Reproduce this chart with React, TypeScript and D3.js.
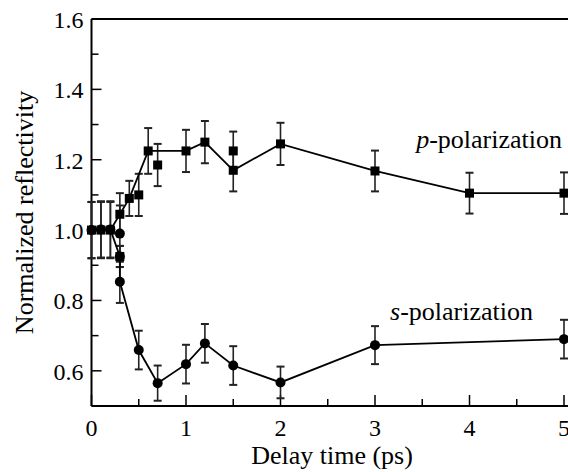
import React from 'react';
import * as d3 from 'd3';

// p-polarization (squares), points joined by the line
const pLineX = [0, 0.1, 0.2, 0.3, 0.4, 0.6, 1.0, 1.2, 1.5, 2.0, 3.0, 4.0, 5.0];
const pLineY = [1.0, 1.0, 1.0, 1.045, 1.09, 1.225, 1.225, 1.25, 1.17, 1.245, 1.168, 1.105, 1.105];
const pLineErr = [0.08, 0.08, 0.08, 0.06, 0.05, 0.065, 0.06, 0.06, 0.06, 0.06, 0.058, 0.058, 0.059];
// p-polarization squares not on the line
const pExtraX = [0.3, 0.5, 0.7, 1.5];
const pExtraY = [0.925, 1.1, 1.185, 1.225];
const pExtraErr = [0.03, 0.06, 0.06, 0.055];

// s-polarization (circles), points joined by the line
const sLineX = [0, 0.1, 0.2, 0.3, 0.3, 0.5, 0.7, 1.0, 1.2, 1.5, 2.0, 3.0, 5.0];
const sLineY = [1.0, 1.002, 1.002, 0.925, 0.853, 0.659, 0.565, 0.619, 0.678, 0.615, 0.567, 0.673, 0.69];
const sLineErr = [0.08, 0.08, 0.08, 0.03, 0.06, 0.055, 0.05, 0.055, 0.055, 0.055, 0.045, 0.054, 0.055];
// s-polarization circles not on the line
const sExtraX = [0.3];
const sExtraY = [0.99];
const sExtraErr = [0.08];

const xMajor = [0, 1, 2, 3, 4, 5];
const yMajor = [0.6, 0.8, 1.0, 1.2, 1.4, 1.6];

const W = 568;
const H = 472;
const font = "'Liberation Serif', 'Times New Roman', Times, serif";
const tickTxt: React.CSSProperties = { fontFamily: font, fontSize: '24px', fill: 'black' };
const labelTxt: React.CSSProperties = { fontFamily: font, fontSize: '26px', fill: 'black' };

const App = () => {
  const x = d3.scaleLinear().domain([0, 5]).range([91.5, 564]);
  const y = d3.scaleLinear().domain([0.5, 1.6]).range([406, 19]);
  const top = y(1.6);
  const bottom = y(0.5);
  const left = x(0);

  const xMinor = d3.range(0.5, 5, 1);
  const yMinor = d3.range(0.5, 1.6, 0.2);

  const line = d3
    .line<[number, number]>()
    .x((d) => x(d[0]))
    .y((d) => y(d[1]));

  const pts = (xs: number[], ys: number[], es: number[]) =>
    xs.map((v, i) => ({ x: v, y: ys[i], e: es[i] }));

  const pLine = pts(pLineX, pLineY, pLineErr);
  const pExtra = pts(pExtraX, pExtraY, pExtraErr);
  const sLine = pts(sLineX, sLineY, sLineErr);
  const sExtra = pts(sExtraX, sExtraY, sExtraErr);

  const errBar = (d: { x: number; y: number; e: number }, k: string) => {
    const cx = x(d.x);
    const y1 = y(d.y + d.e);
    const y2 = y(d.y - d.e);
    return (
      <g key={k} stroke="#222" fill="none">
        <line x1={cx} x2={cx} y1={y1} y2={y2} strokeWidth={1.6} />
        <line x1={cx - 4} x2={cx + 4} y1={y1} y2={y1} strokeWidth={2} />
        <line x1={cx - 4} x2={cx + 4} y1={y2} y2={y2} strokeWidth={2} />
      </g>
    );
  };

  return (
    <>
      <style>{`body { margin: 0; }`}</style>
      <svg width={W} height={H} style={{ display: 'block' }}>
        <rect width={W} height={H} fill="white" />

        {/* frame */}
        <g stroke="black" strokeWidth={2} fill="none">
          <line x1={left} x2={W + 2} y1={top} y2={top} />
          <line x1={left} x2={W + 2} y1={bottom} y2={bottom} />
          <line x1={left} x2={left} y1={top} y2={bottom} />
        </g>

        {/* ticks */}
        <g stroke="black" strokeWidth={1.5}>
          {xMajor.map((t) => (
            <line key={'xm' + t} x1={x(t)} x2={x(t)} y1={bottom} y2={bottom - 11} />
          ))}
          {xMinor.map((t) => (
            <line key={'xn' + t} x1={x(t)} x2={x(t)} y1={bottom} y2={bottom - 7} />
          ))}
          {yMajor.map((t) => (
            <line key={'ym' + t} x1={left} x2={left + 10} y1={y(t)} y2={y(t)} />
          ))}
          {yMinor.map((t) => (
            <line key={'yn' + t} x1={left} x2={left + 7} y1={y(t)} y2={y(t)} />
          ))}
        </g>

        {/* tick labels */}
        {xMajor.map((t) => (
          <text key={'xl' + t} x={x(t)} y={bottom + 30} textAnchor="middle" style={tickTxt}>
            {t}
          </text>
        ))}
        {yMajor.map((t) => (
          <text key={'yl' + t} x={left - 8} y={y(t) + 9} textAnchor="end" style={tickTxt}>
            {t.toFixed(1)}
          </text>
        ))}

        {/* axis titles */}
        <text x={332} y={464} textAnchor="middle" style={labelTxt}>
          Delay time (ps)
        </text>
        <text
          transform={`translate(33,${(top + bottom) / 2}) rotate(-90)`}
          textAnchor="middle"
          style={labelTxt}
        >
          Normalized reflectivity
        </text>

        {/* error bars */}
        {pLine.map((d, i) => errBar(d, 'pe' + i))}
        {pExtra.map((d, i) => errBar(d, 'pxe' + i))}
        {sLine.map((d, i) => errBar(d, 'se' + i))}
        {sExtra.map((d, i) => errBar(d, 'sxe' + i))}

        {/* lines */}
        <path
          d={line(pLine.map((d) => [d.x, d.y]))!}
          fill="none"
          stroke="black"
          strokeWidth={1.8}
        />
        <path
          d={line(sLine.map((d) => [d.x, d.y]))!}
          fill="none"
          stroke="black"
          strokeWidth={1.8}
        />

        {/* markers */}
        {[...pLine, ...pExtra].map((d, i) => (
          <rect key={'pm' + i} x={x(d.x) - 4.5} y={y(d.y) - 4.5} width={9} height={9} fill="black" />
        ))}
        {[...sLine, ...sExtra].map((d, i) => (
          <circle key={'sm' + i} cx={x(d.x)} cy={y(d.y)} r={5} fill="black" />
        ))}

        {/* series labels */}
        <text x={562} y={148} textAnchor="end" style={labelTxt}>
          <tspan fontStyle="italic">p</tspan>-polarization
        </text>
        <text x={533} y={320} textAnchor="end" style={labelTxt}>
          <tspan fontStyle="italic">s</tspan>-polarization
        </text>
      </svg>
    </>
  );
};

export default App;
